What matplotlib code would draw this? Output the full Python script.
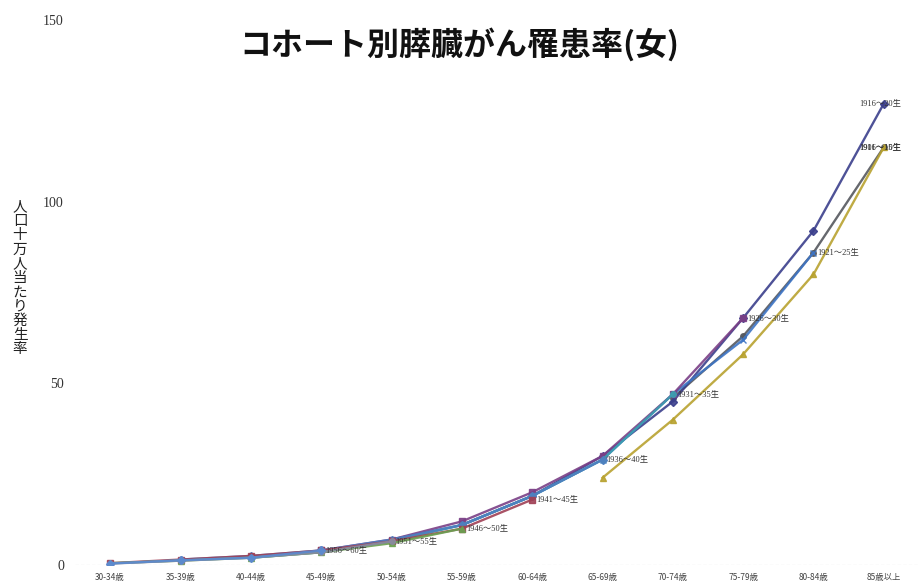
import numpy as np
import matplotlib
matplotlib.use("Agg")
import matplotlib.pyplot as plt

plt.rcParams['font.family'] = ['Noto Sans CJK JP', 'DejaVu Sans']

ages = ['30-34歳', '35-39歳', '40-44歳', '45-49歳', '50-54歳', '55-59歳',
        '60-64歳', '65-69歳', '70-74歳', '75-79歳', '80-84歳', '85歳以上']
nan = np.nan

cohorts = ['1906～10生', '1911～15生', '1916～20生', '1921～25生', '1926～30生',
           '1931～35生', '1936～40生', '1941～45生', '1946～50生',
           '1951～55生', '1956～60生']

c1906 = [nan, nan, nan, nan, nan, nan, nan, nan, 46, 63, 86, 115]
c1911 = [nan, nan, nan, nan, nan, nan, nan, 24, 40, 58, 80, 115]
c1916 = [nan, nan, nan, nan, nan, 11, 19, 30, 45, 68, 92, 127]
c1921 = [nan, nan, nan, nan, 7, 11, 19, 29, 47, 62, 86, nan]
c1926 = [nan, nan, nan, 4, 7, 12, 20, 30, 47, 68, nan, nan]
c1931 = [nan, nan, 2, 3.5, 6.5, 11, 19, 29, 47, nan, nan, nan]
c1936 = [nan, 1.5, 2.5, 4, 7, 11, 19, 29, nan, nan, nan, nan]
c1941 = [0.5, 1.5, 2.5, 4, 6.5, 10, 18, nan, nan, nan, nan, nan]
c1946 = [0.5, 1.2, 2, 3.5, 6, 10, nan, nan, nan, nan, nan, nan]
c1951 = [0.4, 1.2, 2, 3.5, 6.5, nan, nan, nan, nan, nan, nan, nan]
c1956 = [0.4, 1.3, 2, 4, nan, nan, nan, nan, nan, nan, nan, nan]

series = [c1906, c1911, c1916, c1921, c1926, c1931, c1936, c1941, c1946, c1951, c1956]

colors = ['#55585e', '#b8a230', '#3b3f8c', '#3d74c4', '#7a3f86', '#3c9fb0',
          '#4f7fc0', '#a04055', '#6aa050', '#8a8aa0', '#5a8ad0']
markers = ['o', '^', 'D', 'x', 's', 'o', 'D', 's', '^', 'o', 'D']

fig = plt.figure(figsize=(9.19, 5.84), dpi=100)
ax = fig.add_axes([75/919, 1 - 565/584, 1 - 75/919, (565 - 20)/584])

x = np.arange(len(ages))
for name, vals, col, mk in zip(cohorts, series, colors, markers):
    v = np.array(vals, dtype=float)
    ax.plot(x, v, color=col, lw=1.7, marker=mk, ms=4, alpha=0.9)
    last = np.where(~np.isnan(v))[0][-1]
    dx = -18 if last == len(ages) - 1 else 3
    ax.annotate(name, (x[last], v[last]), xytext=(dx, 0), textcoords='offset points',
                fontsize=6, color='#333333', va='center', ha='left',
                family=['Liberation Serif', 'Noto Sans CJK JP'])

ax.set_xlim(-0.5, len(ages) - 0.5)
ax.set_ylim(0, 150)
ax.set_yticks([0, 50, 100, 150])
ax.set_yticklabels(['0', '50', '100', '150'], family='Liberation Serif', fontsize=10, color='#333333')
ax.set_xticks(x)
ax.set_xticklabels(ages, fontsize=6, color='#444444')
ax.tick_params(length=0, axis='y', pad=8)
ax.tick_params(length=0, axis='x', pad=6)
for s in ax.spines.values():
    s.set_visible(False)
ax.axhline(0, color='#bbbbbb', lw=0.8, ls=(0, (3, 2)))

fig.text(0.5, 1 - 45/584, 'コホート別膵臓がん罹患率(女)', ha='center', va='center',
         fontsize=23, fontweight='bold', color='#111111')
fig.text(20/919, 1 - 278/584, '\n'.join('人口十万人当たり発生率'), ha='center', va='center',
         fontsize=10.5, linespacing=1.02, color='#222222')

fig.savefig('out.png', dpi=100)
